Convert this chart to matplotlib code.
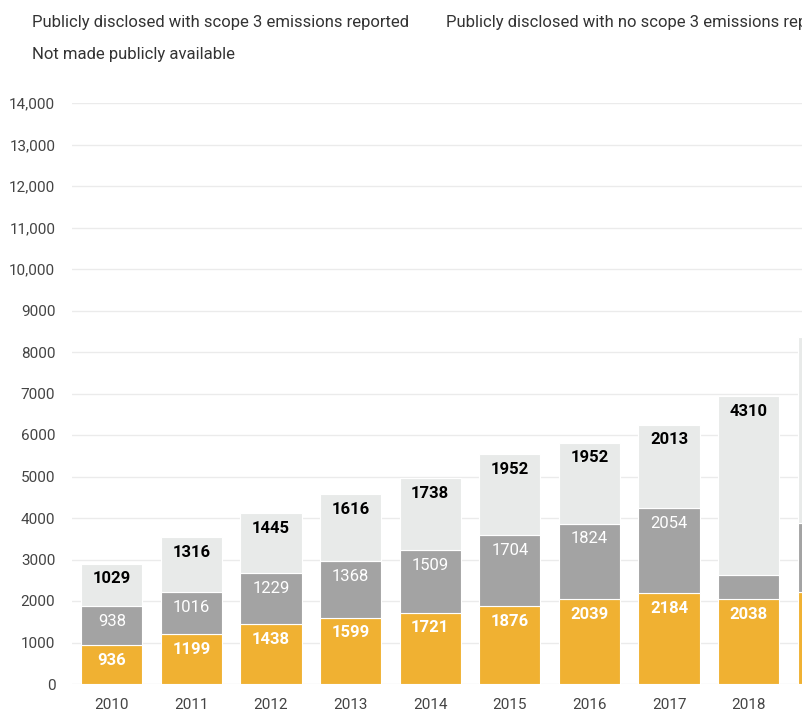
import matplotlib
matplotlib.use('Agg')
from matplotlib import pyplot as plt
from matplotlib.ticker import FuncFormatter

plt.rcParams['font.family'] = ['Roboto', 'DejaVu Sans']

years = ['2010', '2011', '2012', '2013', '2014', '2015', '2016', '2017', '2018', '2019']
scope3 = [936, 1199, 1438, 1599, 1721, 1876, 2039, 2184, 2038, 2220]
no_scope3 = [938, 1016, 1229, 1368, 1509, 1704, 1824, 2054, 590, 1660]
not_public = [1029, 1316, 1445, 1616, 1738, 1952, 1952, 2013, 4310, 4480]
# which segments carry a printed value (2018 grey is too thin, 2019 is off the edge)
show_low = [True] * 9 + [False]
show_mid = [True] * 8 + [False, False]
show_top = [True] * 9 + [False]

c_orange = '#F0B132'
c_gray = '#A3A3A3'
c_light = '#E8EAE9'

fig = plt.figure(figsize=(8.02, 7.15), dpi=100)
# axes runs off the right edge, like the cropped original
ax = fig.add_axes([72 / 802, 31 / 715, 796 / 802, 581 / 715])

x = list(range(len(years)))
w = 0.77
mid_bottom = scope3
top_bottom = [a + b for a, b in zip(scope3, no_scope3)]

ax.bar(x, scope3, w, color=c_orange, edgecolor='white', linewidth=0.8, zorder=2)
ax.bar(x, no_scope3, w, bottom=mid_bottom, color=c_gray, edgecolor='white', linewidth=0.8, zorder=2)
ax.bar(x, not_public, w, bottom=top_bottom, color=c_light, edgecolor='white', linewidth=0.8, zorder=2)

def label(xi, top, txt, color, weight):
   ax.annotate(txt, (xi, top), xytext=(0, -11), textcoords='offset points',
               ha='center', va='center', color=color, fontsize=12,
               fontweight=weight, zorder=3)

for i in x:
   if show_low[i]:
      label(i, scope3[i], str(scope3[i]), 'white', 'bold')
   if show_mid[i]:
      label(i, top_bottom[i], str(no_scope3[i]), 'white', 'normal')
   if show_top[i]:
      label(i, top_bottom[i] + not_public[i], str(not_public[i]), 'black', 'bold')

ax.set_xlim(-0.5, 9.5)
ax.set_ylim(0, 14000)
ax.set_yticks(range(0, 14001, 1000))
ax.yaxis.set_major_formatter(FuncFormatter(
   lambda v, p: f'{int(v):,}' if v >= 10000 else f'{int(v)}'))
# the 2019 year label falls past the cropped edge
ax.set_xticks(x[:-1])
ax.set_xticklabels(years[:-1])
ax.tick_params(axis='both', length=0, labelsize=11, colors='#444444')
ax.tick_params(axis='y', pad=12)
ax.tick_params(axis='x', pad=10)
ax.grid(axis='y', color='#EBEBEB', linewidth=1, zorder=0)
ax.set_axisbelow(True)
for s in ax.spines.values():
   s.set_visible(False)

fig.text(32 / 802, 1 - 22 / 715, 'Publicly disclosed with scope 3 emissions reported',
         fontsize=12, color='#333333', va='center')
fig.text(446 / 802, 1 - 22 / 715, 'Publicly disclosed with no scope 3 emissions reported',
         fontsize=12, color='#333333', va='center')
fig.text(32 / 802, 1 - 55 / 715, 'Not made publicly available',
         fontsize=12, color='#333333', va='center')

fig.savefig('out.png', dpi=100)
